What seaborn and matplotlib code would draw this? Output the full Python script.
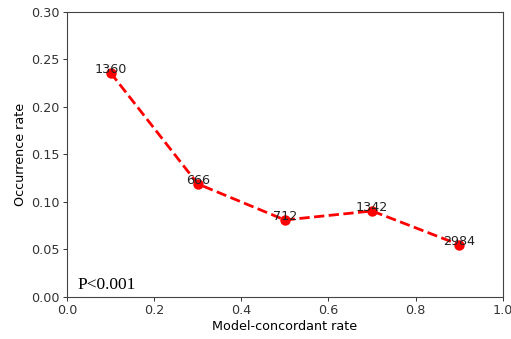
import matplotlib
matplotlib.use("Agg")
import matplotlib.pyplot as plt
import seaborn as sns
import pandas as pd

# data
concordant_rate = [0.1, 0.3, 0.5, 0.7, 0.9]
occurrence_rate = [0.236, 0.119, 0.081, 0.0905, 0.055]
counts = [1360, 666, 712, 1342, 2984]

df = pd.DataFrame({"rate": concordant_rate, "occ": occurrence_rate, "n": counts})

fig = plt.figure(figsize=(5.11, 3.39), dpi=100)
ax = fig.add_axes([0.131, 0.124, 0.853, 0.841])

sns.lineplot(data=df, x="rate", y="occ", ax=ax, color="red", linestyle="--",
             linewidth=2.0, marker="o", markersize=7.5, markeredgewidth=0)

for x, y, n in zip(df["rate"], df["occ"], df["n"]):
    ax.text(x, y - 0.003, str(n), ha="center", va="bottom", fontsize=9.2, color="#222222")

ax.text(0.025, 0.004, "P<0.001", family="Liberation Serif", fontsize=12.5, va="bottom")

ax.set_xlim(0, 1.0)
ax.set_ylim(0, 0.30)
ax.set_xticks([0.0, 0.2, 0.4, 0.6, 0.8, 1.0])
ax.set_yticks([0.0, 0.05, 0.10, 0.15, 0.20, 0.25, 0.30])
ax.set_yticklabels(["0.00", "0.05", "0.10", "0.15", "0.20", "0.25", "0.30"])
ax.tick_params(labelsize=9.2, length=3, width=0.7, colors="#333333", pad=2)
for s in ax.spines.values():
    s.set_linewidth(0.8)
    s.set_color("#444444")
ax.set_xlabel("Model-concordant rate", fontsize=9.2, labelpad=2)
ax.set_ylabel("Occurrence rate", fontsize=9.2, labelpad=3)

fig.savefig("out.png", dpi=100)
